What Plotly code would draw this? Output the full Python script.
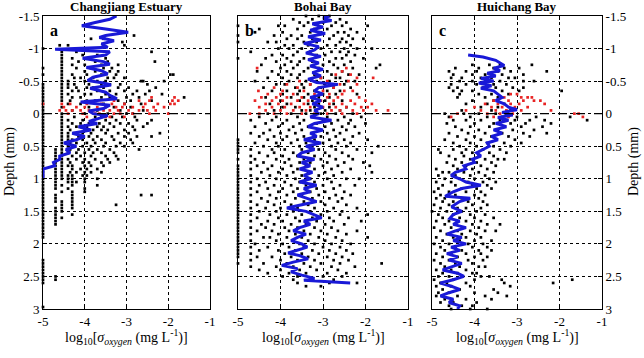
import plotly.graph_objects as go

# ---------------- data (depth in mm, x = log10 sigma_oxygen) ----------------
# Panel a : Changjiang Estuary
a_black_rows = [
    (-1.2, [-2.82]), (-1.15, [-3.85, -3.55]), (-1.1, [-3.1]),
    (-1.05, [-4.6, -4.4, -3.05]), (-1.0, [-5.0]),
    (-0.95, [-4.55, -4.2, -2.4]), (-0.9, [-4.55, -4.05, -3.7]),
    (-0.85, [-4.55, -4.3, -3.95, -3.5]), (-0.8, [-4.55, -4.15, -3.75, -3.45, -2.32]),
    (-0.75, [-4.55, -4.3, -4.0, -3.6, -3.2]), (-0.7, [-5.0, -4.55, -4.2, -3.85, -3.55, -3.35]),
    (-0.65, [-4.55, -4.0, -3.75, -3.4, -3.2]),
    (-0.6, [-5.0, -4.55, -4.3, -3.95, -3.6, -3.25, -1.95, -1.88]),
    (-0.55, [-4.55, -4.25, -4.1, -3.8, -3.45, -3.3, -3.05]),
    (-0.5, [-4.55, -4.4, -4.0, -3.7, -3.5, -2.65, -2.6, -2.1]),
    (-0.45, [-5.0, -4.55, -4.4, -4.25, -3.9, -3.6, -3.4, -3.15, -2.5]),
    (-0.4, [-5.0, -4.55, -4.4, -4.2, -3.95, -3.8, -3.55, -3.2, -2.95, -2.3]),
    (-0.35, [-5.0, -4.55, -4.3, -4.15, -3.7, -3.4, -3.05, -2.75, -2.45]),
    (-0.3, [-5.0, -4.55, -4.4, -4.0, -3.85, -3.5, -3.25, -2.85, -2.55, -2.15]),
    (-0.25, [-5.0, -4.55, -4.3, -4.1, -3.6, -3.4, -3.0, -2.7, -1.62]),
    (-0.2, [-5.0, -4.55, -4.35, -3.95, -3.75, -3.2, -2.9, -2.4]),
    (-0.15, [-5.0, -4.4, -4.1, -3.55, -3.05, -2.65]),
    (-0.1, [-5.0, -4.55, -3.9, -3.3, -2.9]),
    (-0.05, [-5.0, -4.3, -3.7, -3.15, -2.6]),
    (0.0, [-5.0, -4.55, -4.0, -3.45, -3.0, -2.85]),
    (0.05, [-5.0, -4.55, -4.25, -3.75, -3.6, -3.35, -3.1, -2.8]),
    (0.1, [-5.0, -4.55, -4.4, -4.05, -3.8, -3.5, -3.25, -2.75, -2.4]),
    (0.15, [-5.0, -4.55, -4.3, -4.1, -3.9, -3.65, -3.4, -3.15, -2.95, -2.5]),
    (0.2, [-5.0, -4.55, -4.4, -4.2, -3.95, -3.7, -3.55, -3.3, -2.85, -2.6]),
    (0.25, [-5.0, -4.55, -4.35, -4.0, -3.8, -3.6, -3.45, -3.05, -2.8]),
    (0.3, [-5.0, -4.55, -4.4, -4.25, -4.05, -3.85, -3.5, -3.2, -2.95, -2.2]),
    (0.35, [-5.0, -4.55, -4.4, -4.15, -3.9, -3.7, -3.35, -3.05, -2.75, -2.4]),
    (0.4, [-5.0, -4.55, -4.4, -4.3, -4.05, -3.8, -3.6, -3.3, -2.9]),
    (0.45, [-5.0, -4.55, -4.35, -4.2, -3.95, -3.75, -3.5, -3.15, -2.85]),
    (0.5, [-5.0, -4.55, -4.4, -4.25, -4.05, -3.85, -3.55, -3.25, -3.05]),
    (0.55, [-5.0, -4.7, -4.55, -4.35, -4.15, -3.9, -3.7, -3.4, -2.7]),
    (0.6, [-5.0, -4.7, -4.55, -4.4, -4.2, -4.0, -3.8, -3.6, -3.3]),
    (0.65, [-5.0, -4.7, -4.55, -4.3, -4.1, -3.85, -3.5, -3.25]),
    (0.7, [-5.0, -4.7, -4.55, -4.4, -4.2, -4.0, -3.75, -3.45, -3.2]),
    (0.75, [-5.0, -4.7, -4.55, -4.35, -4.05, -3.9, -3.6, -3.4]),
    (0.8, [-5.0, -4.7, -4.55, -4.4, -4.3, -4.0, -3.85, -3.55]),
    (0.85, [-5.0, -4.7, -4.55, -4.3, -4.1, -3.95, -3.7]),
    (0.9, [-5.0, -4.7, -4.55, -4.35, -4.2, -4.0, -3.85, -3.6]),
    (0.95, [-5.0, -4.7, -4.55, -4.4, -4.3, -4.05, -3.95]),
    (1.0, [-5.0, -4.7, -4.55, -4.4, -4.3, -4.0, -3.7]),
    (1.05, [-5.0, -4.7, -4.4, -4.3, -4.2, -4.0]),
    (1.1, [-5.0, -4.7, -4.55, -4.3, -3.7]),
    (1.15, [-5.0, -4.7, -4.4, -4.0]),
    (1.2, [-5.0, -4.55, -4.3, -4.0]),
    (1.25, [-5.0, -4.7, -4.3, -2.65, -2.4]),
    (1.3, [-5.0, -4.7, -4.3]), (1.35, [-5.0, -4.7, -4.55, -4.3]),
    (1.4, [-5.0, -4.55, -4.3, -3.25]), (1.45, [-5.0, -4.7, -4.55, -4.3]),
    (1.5, [-5.0, -4.7, -4.55]), (1.55, [-5.0, -4.7, -4.3]),
    (1.6, [-5.0, -4.7, -4.55]), (1.65, [-5.0, -4.7]), (1.7, [-5.0, -4.7]),
    (1.75, [-5.0]), (1.8, [-5.0]), (1.85, [-5.0]), (1.9, [-5.0]),
    (2.25, [-5.0]), (2.3, [-5.0]), (2.35, [-5.0]), (2.4, [-5.0]), (2.45, [-5.0]),
    (2.5, [-5.0, -4.7]), (2.55, [-5.0, -4.7]), (2.6, [-5.0]), (2.97, [-5.0]),
]
a_red_rows = [
    (-0.25, [-2.4, -1.85]),
    (-0.2, [-3.3, -2.7, -2.45, -1.9, -1.76]),
    (-0.15, [-5.0, -4.55, -4.35, -3.95, -3.6, -3.35, -3.05, -2.55, -2.25, -1.95, -1.85]),
    (-0.1, [-4.5, -4.2, -4.0, -3.7, -3.5, -3.25, -3.1, -2.85, -2.6, -2.35, -2.1]),
    (-0.05, [-4.6, -4.45, -4.3, -4.1, -3.9, -3.8, -3.55, -3.4, -3.2, -2.95, -2.7, -2.5, -2.3]),
    (0.0, [-4.4, -4.05, -3.75, -3.65, -3.3, -3.15, -2.85, -2.45, -2.0]),
    (0.05, [-3.95, -3.5, -3.4, -3.05]),
]
a_line_depth = [-1.5, -1.45, -1.4, -1.35, -1.3, -1.25, -1.2, -1.17, -1.12, -1.07, -1.02, -0.99,
                -0.95, -0.9, -0.85, -0.8, -0.76, -0.71, -0.66, -0.61, -0.56, -0.51, -0.47, -0.44,
                -0.39, -0.33, -0.28, -0.23, -0.18, -0.13, -0.08, -0.04, 0.0, 0.03, 0.08, 0.12,
                0.15, 0.2, 0.25, 0.3, 0.35, 0.4, 0.45, 0.5, 0.55, 0.6, 0.65, 0.7, 0.75, 0.8,
                0.85, 0.9, 1.0]
a_line_x = [-3.24, -3.4, -3.75, -4.07, -3.5, -2.96, -3.5, -3.65, -3.3, -3.6, -3.45, -4.71,
            -3.4, -3.5, -4.05, -3.55, -3.4, -3.96, -3.6, -3.45, -3.8, -3.93, -3.55, -3.37,
            -3.87, -3.5, -3.4, -3.23, -4.1, -3.4, -3.55, -3.9, -3.8, -3.45, -3.7, -3.9,
            -3.7, -4.15, -3.85, -4.3, -4.0, -4.2, -4.5, -4.2, -4.45, -4.35, -4.6, -4.6, -4.75, -4.72,
            -5.0, -5.0, -5.0]

# Panel b : Bohai Bay
b_black_rows = [
    (-1.5, [-3.4, -3.1, -2.85]), (-1.45, [-3.7, -3.25, -2.95, -2.6]),
    (-1.4, [-3.55, -3.35, -3.0, -2.7, -2.45]),
    (-1.35, [-5.0, -4.05, -3.9, -3.45, -2.8, -2.55, -1.95]),
    (-1.3, [-4.5, -3.6, -3.2, -2.9, -2.35]),
    (-1.25, [-4.6, -3.95, -3.3, -3.05, -2.65, -2.5, -2.2]),
    (-1.2, [-5.0, -4.15, -3.75, -3.5, -2.75, -2.4]),
    (-1.15, [-3.85, -3.6, -3.25, -2.85, -2.55, -2.3, -2.05]),
    (-1.1, [-5.0, -4.3, -4.1, -3.45, -3.15, -2.6, -2.45]),
    (-1.05, [-3.9, -3.7, -3.35, -2.9, -2.7, -2.35]),
    (-1.0, [-4.05, -3.8, -3.5, -3.05, -2.5, -2.2, -1.85]),
    (-0.95, [-4.7, -3.6, -3.3, -2.8, -2.6, -2.4]),
    (-0.9, [-4.2, -3.95, -3.7, -3.15, -2.95, -2.45, -2.25]),
    (-0.85, [-5.0, -4.35, -3.85, -3.45, -2.7, -2.55, -2.05]),
    (-0.8, [-4.1, -3.75, -3.55, -3.25, -2.85, -2.35]),
    (-0.75, [-4.45, -3.9, -3.6, -3.0, -2.75, -2.5, -1.66]),
    (-0.7, [-4.0, -3.7, -3.35, -3.1, -2.65, -2.3, -1.75]),
    (-0.65, [-4.55, -4.2, -3.85, -3.45, -2.9, -2.55]),
    (-0.6, [-4.05, -3.75, -3.55, -3.2, -2.8, -2.4, -2.15]),
    (-0.55, [-4.3, -3.95, -3.6, -3.05, -2.7, -2.6]),
    (-0.5, [-4.6, -3.8, -3.4, -3.15, -2.85, -2.45, -2.25]),
    (-0.45, [-4.1, -3.9, -3.5, -3.3, -2.95, -2.5]),
    (-0.4, [-4.4, -3.65, -3.45, -3.05, -2.75, -2.35]),
    (-0.35, [-4.2, -3.85, -3.55, -3.2, -2.9, -2.6]),
    (-0.3, [-3.95, -3.6, -3.35, -3.0, -2.7, -2.2]),
    (-0.25, [-4.35, -3.75, -3.45, -3.1, -2.85]),
    (-0.2, [-4.0, -3.55, -3.25, -2.95, -2.55]),
    (-0.15, [-4.25, -3.85, -3.35, -3.1, -2.75]),
    (-0.1, [-3.95, -3.65, -3.2, -2.85, -2.45]),
    (-0.05, [-4.15, -3.5, -3.3, -2.95, -2.6]),
    (0.0, [-4.3, -3.75, -3.4, -3.05, -2.7, -2.3]),
    (0.05, [-4.5, -4.1, -3.6, -3.25, -2.9, -2.5, -2.1]),
    (0.1, [-4.7, -4.2, -3.85, -3.45, -3.0, -2.65, -2.35]),
    (0.15, [-4.35, -3.95, -3.55, -3.15, -2.8, -2.4, -2.0]),
    (0.2, [-4.6, -4.05, -3.7, -3.35, -2.95, -2.55, -2.25]),
    (0.25, [-4.25, -3.8, -3.5, -3.1, -2.75, -2.45]),
    (0.3, [-4.7, -4.4, -4.0, -3.65, -3.25, -2.9, -2.6, -2.15]),
    (0.35, [-4.5, -4.15, -3.85, -3.45, -3.05, -2.7, -2.3]),
    (0.4, [-5.0, -4.3, -3.95, -3.6, -3.2, -2.85, -2.5, -1.95]),
    (0.45, [-5.0, -4.6, -4.1, -3.75, -3.4, -3.0, -2.65, -2.35]),
    (0.5, [-5.0, -4.4, -4.05, -3.55, -3.25, -2.8, -2.45, -1.7]),
    (0.55, [-5.0, -4.7, -4.2, -3.9, -3.5, -3.1, -2.7, -2.2]),
    (0.6, [-5.0, -4.5, -4.15, -3.7, -3.35, -2.95, -2.55, -1.85]),
    (0.65, [-4.7, -4.3, -3.95, -3.6, -3.2, -2.85, -2.4]),
    (0.7, [-5.0, -4.6, -4.1, -3.8, -3.45, -3.05, -2.7, -2.3]),
    (0.75, [-4.7, -4.4, -3.9, -3.55, -3.3, -2.9, -2.5, -2.05]),
    (0.8, [-5.0, -4.55, -4.2, -3.75, -3.4, -3.0, -2.65, -1.9]),
    (0.85, [-5.0, -4.7, -4.3, -3.95, -3.6, -3.2, -2.8, -2.35]),
    (0.9, [-5.0, -4.45, -4.05, -3.7, -3.35, -2.95, -2.55, -1.85]),
    (0.95, [-5.0, -4.7, -4.25, -3.85, -3.5, -3.1, -2.75]),
    (1.0, [-5.0, -4.55, -4.1, -3.65, -3.3, -2.9, -2.45, -2.15]),
    (1.05, [-5.0, -4.7, -4.35, -3.9, -3.55, -3.2, -2.8]),
    (1.1, [-5.0, -4.5, -4.15, -3.75, -3.4, -3.0, -2.6, -2.25]),
    (1.15, [-5.0, -4.7, -4.3, -3.95, -3.6, -3.15, -2.75]),
    (1.2, [-5.0, -4.55, -4.05, -3.7, -3.3, -2.95, -2.5]),
    (1.25, [-5.0, -4.7, -4.25, -3.85, -3.5, -3.1, -2.7, -2.35]),
    (1.3, [-5.0, -4.45, -4.1, -3.65, -3.25, -2.85, -2.55]),
    (1.35, [-5.0, -4.7, -4.3, -3.9, -3.45, -3.05, -2.65]),
    (1.4, [-5.0, -4.55, -4.15, -3.75, -3.35, -2.95, -2.45]),
    (1.45, [-5.0, -4.7, -4.35, -4.0, -3.6, -3.2, -2.75, -2.2]),
    (1.5, [-5.0, -4.5, -4.1, -3.7, -3.3, -2.9, -2.55]),
    (1.55, [-5.0, -4.7, -4.25, -3.85, -3.5, -3.05, -2.6, -1.95]),
    (1.6, [-5.0, -4.55, -4.05, -3.65, -3.25, -2.85, -2.4]),
    (1.65, [-5.0, -4.7, -4.3, -3.95, -3.55, -3.15, -2.75, -2.1]),
    (1.7, [-5.0, -4.45, -4.15, -3.75, -3.4, -2.95, -2.5]),
    (1.75, [-5.0, -4.7, -4.35, -3.9, -3.6, -3.2, -2.8]),
    (1.8, [-5.0, -4.55, -4.2, -3.8, -3.45, -3.05, -2.65, -2.2]),
    (1.85, [-5.0, -4.7, -4.05, -3.65, -3.3, -2.9, -2.45]),
    (1.9, [-5.0, -4.4, -4.25, -3.85, -3.5, -3.1, -2.7, -1.95]),
    (1.95, [-5.0, -4.7, -4.1, -3.7, -3.35, -2.95, -2.55]),
    (2.0, [-5.0, -4.6, -3.95, -3.55, -3.2, -2.8, -2.35]),
    (2.05, [-5.0, -4.7, -4.3, -3.8, -3.45, -3.0, -2.6]),
    (2.1, [-5.0, -4.5, -4.05, -3.65, -3.25, -2.85, -2.45]),
    (2.15, [-5.0, -4.7, -3.9, -3.5, -3.1, -2.7, -2.3]),
    (2.2, [-5.0, -4.55, -4.2, -3.75, -3.35, -2.9, -2.55]),
    (2.25, [-4.7, -4.0, -3.6, -3.2, -2.75, -2.4]),
    (2.3, [-5.0, -4.4, -3.85, -3.45, -3.05, -2.6, -1.62]),
    (2.35, [-4.7, -4.1, -3.7, -3.3, -2.8, -2.25]),
    (2.4, [-4.5, -4.0, -3.55, -3.15, -2.65]),
    (2.45, [-4.3, -3.8, -3.4, -2.9, -2.45]),
    (2.5, [-3.95, -3.6, -3.0, -2.55]),
    (2.55, [-3.7, -3.25, -2.75]),
    (2.6, [-3.6, -2.85, -2.2]),
    (2.65, [-3.4, -3.05]),
]
b_red_rows = [
    (-0.7, [-4.55, -2.45]), (-0.65, [-2.55]), (-0.6, [-2.7, -2.35]),
    (-0.55, [-3.05, -2.2, -1.82]), (-0.5, [-3.55, -2.9, -2.4]),
    (-0.45, [-3.85, -3.3, -2.6, -2.2]), (-0.4, [-4.15, -3.6, -3.1, -2.75]),
    (-0.35, [-4.52, -3.95, -3.45, -3.0, -2.5, -2.3]),
    (-0.3, [-4.3, -4.0, -3.7, -3.2, -2.85, -2.55]),
    (-0.25, [-4.45, -4.1, -3.85, -3.5, -3.25, -2.9, -2.65, -2.15]),
    (-0.2, [-4.6, -4.2, -3.95, -3.6, -3.35, -3.05, -2.75, -2.35, -2.0]),
    (-0.15, [-4.35, -4.05, -3.75, -3.45, -3.15, -2.85, -2.55, -2.25, -1.85]),
    (-0.1, [-4.5, -4.2, -3.9, -3.55, -3.3, -3.0, -2.7, -2.45, -2.1, -1.95]),
    (-0.05, [-4.35, -4.0, -3.7, -3.4, -3.15, -2.8, -2.6, -2.3, -2.05, -1.75, -1.47]),
    (0.0, [-4.72, -4.5, -4.15, -3.85, -3.5, -3.2, -2.9, -2.55, -2.2]),
]
b_line_depth = [-1.5, -1.47, -1.43, -1.38, -1.33, -1.28, -1.23, -1.18, -1.13, -1.08, -1.03, -0.98,
                -0.93, -0.88, -0.83, -0.78, -0.73, -0.68, -0.63, -0.58, -0.53, -0.48, -0.45, -0.4,
                -0.35, -0.3, -0.25, -0.2, -0.15, -0.1, -0.05, 0.0, 0.05, 0.1, 0.15, 0.2, 0.25,
                0.3, 0.35, 0.4, 0.45, 0.5, 0.55, 0.6, 0.65, 0.7, 0.75, 0.8, 0.85, 0.9, 0.95, 1.0,
                1.05, 1.1, 1.15, 1.2, 1.25, 1.3, 1.35, 1.4, 1.45, 1.5, 1.55, 1.6, 1.65, 1.7, 1.75,
                1.8, 1.85, 1.9, 1.95, 2.0, 2.05, 2.1, 2.14, 2.18, 2.23, 2.28, 2.33, 2.38, 2.43,
                2.48, 2.53, 2.56, 2.6]
b_line_x = [-2.85, -3.0, -2.8, -3.25, -3.0, -3.3, -2.95, -3.35, -3.05, -3.45, -3.1, -3.2,
            -3.4, -3.05, -3.35, -3.1, -3.3, -3.0, -3.25, -3.05, -3.35, -3.15, -2.65, -3.1,
            -3.2, -3.0, -3.3, -3.05, -3.25, -3.0, -3.2, -3.1, -3.3, -2.8, -3.2, -3.35, -3.0,
            -3.3, -3.15, -3.45, -3.05, -3.4, -3.2, -3.5, -3.6, -3.2, -3.5, -3.3, -3.55, -3.25, -3.45, -3.3,
            -3.55, -3.15, -3.45, -3.3, -3.6, -3.35, -3.15, -3.5, -3.85, -3.4, -3.2, -3.03, -3.45, -3.3, -3.55,
            -3.7, -3.4, -3.6, -3.75, -3.5, -3.37, -3.6, -3.82, -3.55, -3.35, -3.7, -3.97, -3.6, -3.75,
            -3.5, -3.2, -3.45, -2.36]

# Panel c : Huichang Bay
c_black_rows = [
    (-0.75, [-4.05, -3.65, -3.4, -2.65]), (-0.7, [-4.45, -3.9, -3.55, -3.3, -2.95]),
    (-0.65, [-4.6, -4.2, -3.95, -3.45, -3.15, -2.3]), (-0.6, [-4.5, -4.05, -3.75, -3.35, -2.85]),
    (-0.55, [-4.55, -4.3, -3.85, -3.6, -3.2, -3.05]), (-0.5, [-4.35, -4.05, -3.7, -3.4, -2.85, -2.6]),
    (-0.45, [-4.55, -4.2, -3.95, -3.55, -3.25]), (-0.4, [-4.6, -4.4, -3.8, -3.5, -3.1, -2.85]),
    (-0.35, [-4.5, -4.3, -4.05, -3.35, -2.95, -1.95]), (-0.3, [-4.35, -3.9, -3.6, -3.2]),
    (-0.25, [-4.4, -3.75, -3.45]), (-0.2, [-4.05, -3.55]), (-0.15, [-4.2, -3.7, -3.3]),
    (-0.1, [-3.85, -3.45]), (-0.05, [-4.3, -3.6, -3.15]), (0.0, [-4.7, -4.25, -3.9, -3.5, -3.25]),
    (0.05, [-4.6, -4.1, -3.7, -3.35, -3.0, -2.55, -1.75]),
    (0.1, [-4.5, -4.2, -3.85, -3.4, -3.05, -2.7, -2.35, -1.35]),
    (0.15, [-4.65, -4.0, -3.55, -3.15, -2.8, -2.2]), (0.2, [-4.45, -4.1, -3.65, -3.3, -2.9, -2.4]),
    (0.25, [-4.3, -3.9, -3.45, -3.1, -2.6]), (0.3, [-4.6, -4.15, -3.75, -3.35, -2.85, -2.3]),
    (0.35, [-4.4, -4.0, -3.6, -3.2, -2.7]), (0.4, [-4.7, -4.2, -3.85, -3.5, -3.05]),
    (0.45, [-4.5, -4.1, -3.7, -3.3, -2.9]), (0.5, [-4.35, -3.95, -3.55, -3.15]),
    (0.55, [-4.85, -4.5, -4.2, -3.8, -3.4]), (0.6, [-4.8, -4.3, -4.05, -3.65, -3.25]),
    (0.65, [-4.6, -4.25, -3.9, -3.55]), (0.7, [-4.45, -4.1, -3.75, -3.45, -3.3]),
    (0.75, [-4.65, -4.3, -3.95, -3.6]), (0.8, [-4.5, -4.2, -3.85, -3.5]),
    (0.85, [-4.9, -4.4, -4.05, -3.7]), (0.9, [-4.75, -4.6, -4.25, -3.9, -3.55]),
    (0.95, [-4.85, -4.45, -4.1, -3.75]), (1.0, [-4.7, -4.35, -4.0, -3.65]),
    (1.05, [-4.9, -4.55, -4.15, -3.8, -3.5]), (1.1, [-4.75, -4.45, -4.05, -3.7]),
    (1.15, [-4.85, -4.3, -3.95, -3.6]), (1.2, [-4.95, -4.6, -4.2, -3.85]),
    (1.25, [-4.8, -4.45, -4.0, -3.75]), (1.3, [-4.9, -4.7, -4.3, -3.9]),
    (1.35, [-4.75, -4.5, -4.15, -3.8]), (1.4, [-4.95, -4.6, -4.05, -3.7]),
    (1.45, [-4.8, -4.4, -4.2, -3.85]), (1.5, [-5.0, -4.65, -4.3, -3.95]),
    (1.55, [-4.85, -4.5, -4.1, -3.75]), (1.6, [-4.75, -4.35, -4.0, -3.55]),
    (1.65, [-4.9, -4.6, -4.2, -3.85]), (1.7, [-4.7, -4.45, -4.05, -3.7, -3.4]),
    (1.75, [-4.95, -4.55, -4.25, -3.9]), (1.8, [-4.8, -4.4, -4.1, -3.75, -3.5]),
    (1.85, [-4.65, -4.3, -3.95]), (1.9, [-4.9, -4.5, -4.2, -3.85]),
    (1.95, [-4.75, -4.35, -4.0, -3.6]), (2.0, [-4.95, -4.6, -4.15, -3.8]),
    (2.05, [-4.8, -4.45, -4.05, -3.7]), (2.1, [-4.7, -4.3, -3.9, -3.6]),
    (2.15, [-4.9, -4.55, -4.2, -3.85]), (2.2, [-4.75, -4.4, -4.0, -3.7]),
    (2.25, [-4.95, -4.6, -4.15, -3.8]), (2.3, [-4.8, -4.45, -4.05]),
    (2.35, [-4.7, -4.35, -3.9, -3.75]), (2.4, [-4.9, -4.55, -4.2]),
    (2.45, [-4.75, -4.4, -4.05, -3.95]), (2.5, [-4.85, -4.6, -4.3, -3.85, -3.65]),
    (2.55, [-4.95, -4.5, -4.0, -3.36, -1.7]), (2.6, [-4.8, -4.65, -4.2, -3.3, -2.15]),
    (2.65, [-4.9, -4.55, -4.1, -3.16]), (2.7, [-4.75, -4.35, -3.55]),
    (2.75, [-4.85, -4.6, -4.0, -3.45]), (2.8, [-4.9, -4.4, -3.75, -3.24]),
    (2.85, [-4.7, -4.2, -3.6]), (2.9, [-4.8, -4.5, -3.95]),
    (2.95, [-4.6, -4.3, -4.05]), (3.0, [-4.55, -4.1, -3.7]),
]
c_red_rows = [
    (-0.3, [-3.15, -3.0]), (-0.25, [-3.3, -2.9, -2.75, -2.65]),
    (-0.2, [-3.55, -3.2, -2.85, -2.6, -2.45]), (-0.15, [-3.75, -3.45, -3.15, -2.95, -2.35]),
    (-0.1, [-4.0, -3.6, -3.35, -3.05, -2.75]), (-0.05, [-4.2, -3.85, -3.5, -3.25, -2.9, -2.2]),
    (0.0, [-4.4, -3.7, -3.4, -3.1, -1.65, -1.55]), (0.05, [-4.55, -3.55, -3.2, -1.45]),
]
c_line_depth = [-0.9, -0.87, -0.82, -0.78, -0.74, -0.7, -0.66, -0.62, -0.58, -0.54, -0.5, -0.47,
                -0.43, -0.39, -0.35, -0.3, -0.25, -0.2, -0.15, -0.1, -0.06, -0.02, 0.02, 0.06,
                0.1, 0.15, 0.2, 0.25, 0.3, 0.35, 0.4, 0.45, 0.5, 0.55, 0.6, 0.65, 0.7, 0.75, 0.8,
                0.85, 0.9, 0.95, 1.0, 1.05, 1.1, 1.15, 1.2, 1.27, 1.3, 1.35, 1.43, 1.5, 1.55, 1.61,
                1.65, 1.7, 1.75, 1.8, 1.85, 1.9, 1.95, 2.0, 2.05, 2.1, 2.15, 2.2, 2.25, 2.3, 2.35,
                2.4, 2.45, 2.5, 2.55, 2.6, 2.65, 2.7, 2.75, 2.8, 2.85, 2.9, 2.95, 3.0]
c_line_x = [-4.15, -3.8, -3.5, -3.4, -3.3, -3.55, -3.4, -3.7, -3.5, -3.85, -3.55, -3.9,
            -3.6, -3.85, -3.55, -3.45, -3.35, -3.5, -3.3, -3.2, -3.0, -3.35, -3.1, -3.45,
            -3.2, -3.5, -3.25, -3.55, -3.35, -3.6, -3.45, -3.7, -3.65, -3.8, -3.95, -3.85, -4.05, -4.0, -4.25,
            -4.2, -4.45, -4.55, -4.35, -4.2, -3.85, -4.3, -4.5, -4.69, -4.1, -4.35, -4.54, -4.3, -4.5, -4.58,
            -4.35, -4.5, -4.2, -4.45, -4.65, -4.3, -4.5, -4.2, -4.55, -4.35, -4.65, -4.4, -4.6, -4.3, -4.55,
            -4.75, -4.4, -4.25, -4.5, -4.8, -4.55, -4.35, -4.6, -4.8, -4.5, -4.6, -4.35, -4.4]

panel_titles = ["Changjiang Estuary", "Bohai Bay", "Huichang Bay"]
panel_letters = ["a", "b", "c"]
y_tick_vals = [-1.5, -1, -0.5, 0, 0.5, 1, 1.5, 2, 2.5, 3]
y_tick_text = ["-1.5", "-1", "-0.5", "0", "0.5", "1", "1.5", "2", "2.5", "3"]
x_tick_vals = [-5, -4, -3, -2, -1]
x_tick_text = ["-5", "-4", "-3", "-2", "-1"]


def flatten(rows):
    xs, ys = [], []
    for d, vals in rows:
        for v in vals:
            xs.append(v)
            ys.append(d)
    return xs, ys


W, H = 644, 358
FONT = "Liberation Serif"
BLACK_DOT = "black"
RED_DOT = "rgb(232,35,35)"
BLUE = "rgb(25,25,215)"

panels = [
    (a_black_rows, a_red_rows, a_line_depth, a_line_x),
    (b_black_rows, b_red_rows, b_line_depth, b_line_x),
    (c_black_rows, c_red_rows, c_line_depth, c_line_x),
]
x_px = [(43, 210), (238, 408), (432, 602)]
y_top, y_bot = 16, 309

fig = go.Figure()
for i, (blk, red, ld, lx) in enumerate(panels):
    suf = "" if i == 0 else str(i + 1)
    bx, by = flatten(blk)
    rx, ry = flatten(red)
    fig.add_trace(go.Scatter(x=bx, y=by, mode="markers", xaxis="x" + suf, yaxis="y" + suf,
                             marker=dict(symbol="square", size=2.7, color=BLACK_DOT, line=dict(width=0)),
                             cliponaxis=False, showlegend=False))
    fig.add_trace(go.Scatter(x=rx, y=ry, mode="markers", xaxis="x" + suf, yaxis="y" + suf,
                             marker=dict(symbol="square", size=2.7, color=RED_DOT, line=dict(width=0)),
                             cliponaxis=False, showlegend=False))
    fig.add_trace(go.Scatter(x=lx, y=ld, mode="lines", xaxis="x" + suf, yaxis="y" + suf,
                             line=dict(color=BLUE, width=3), showlegend=False))

layout = dict(width=W, height=H, margin=dict(l=0, r=0, t=0, b=0, autoexpand=False),
              paper_bgcolor="white", plot_bgcolor="white", font=dict(family=FONT, color="black"))
ydom = [1 - y_bot / H, 1 - y_top / H]
for i in range(3):
    suf = "" if i == 0 else str(i + 1)
    x0, x1 = x_px[i]
    layout["xaxis" + suf] = dict(domain=[x0 / W, x1 / W], range=[-5, -1], anchor="y" + suf,
                                 tickvals=x_tick_vals, ticktext=x_tick_text, automargin=False,
                                 showgrid=True, gridcolor="black", griddash="dot", gridwidth=0.7,
                                 zeroline=False, showline=True, linecolor="black", linewidth=1,
                                 mirror="ticks", ticks="inside", ticklen=4, tickcolor="black",
                                 tickfont=dict(family=FONT, size=13, color="black"))
    layout["yaxis" + suf] = dict(domain=ydom, range=[3, -1.5], anchor="x" + suf,
                                 tickvals=y_tick_vals, ticktext=y_tick_text, automargin=False,
                                 showticklabels=(i != 1), side=("right" if i == 2 else "left"),
                                 showgrid=True, gridcolor="black", griddash="dot", gridwidth=0.7,
                                 zeroline=False, showline=True, linecolor="black", linewidth=1,
                                 mirror="ticks", ticks="inside", ticklen=4, tickcolor="black",
                                 tickfont=dict(family=FONT, size=13, color="black"))
fig.update_layout(**layout)

shapes = []
annotations = []
xtitle = "log<sub>10</sub>[<i>σ</i><sub><i>oxygen</i></sub> (mg L<sup>-1</sup>)]"
for i in range(3):
    suf = "" if i == 0 else str(i + 1)
    shapes.append(dict(type="line", xref="x" + suf + " domain", yref="y" + suf,
                       x0=0, x1=1, y0=0, y1=0, line=dict(color="black", width=1.3, dash="dash"),
                       layer="above"))
    cx = (x_px[i][0] + x_px[i][1]) / 2 / W
    annotations.append(dict(text="<b>" + panel_titles[i] + "</b>", x=cx, y=1 - 7 / H,
                            xref="paper", yref="paper", xanchor="center", yanchor="middle",
                            showarrow=False, font=dict(family=FONT, size=13, color="black")))
    annotations.append(dict(text="<b>" + panel_letters[i] + "</b>", x=0.03, y=0.985,
                            xref="x" + suf + " domain", yref="y" + suf + " domain",
                            xanchor="left", yanchor="top", showarrow=False,
                            font=dict(family=FONT, size=16, color="black")))
    annotations.append(dict(text=xtitle, x=cx, y=1 - 337 / H, xref="paper", yref="paper",
                            xanchor="center", yanchor="middle",
                            showarrow=False, font=dict(family=FONT, size=14, color="black")))
annotations.append(dict(text="Depth (mm)", x=10 / W, y=1 - 162 / H, xref="paper", yref="paper",
                        xanchor="center", yanchor="middle",
                        textangle=-90, showarrow=False, font=dict(family=FONT, size=14, color="black")))
annotations.append(dict(text="Depth (mm)", x=634 / W, y=1 - 162 / H, xref="paper", yref="paper",
                        xanchor="center", yanchor="middle",
                        textangle=-90, showarrow=False, font=dict(family=FONT, size=14, color="black")))
fig.update_layout(shapes=shapes, annotations=annotations)

fig.write_html("out.html", config={"displayModeBar": False},
               post_script="document.body.style.margin='0';document.body.style.overflow='hidden';")
